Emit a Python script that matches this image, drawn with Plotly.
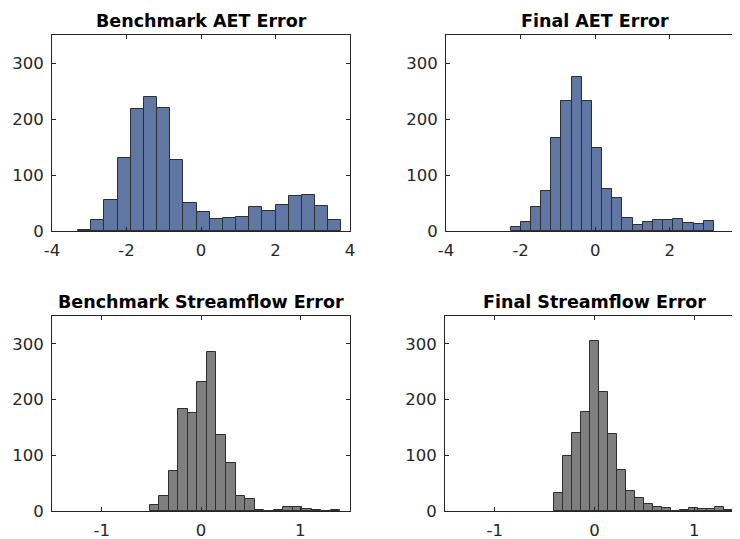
import numpy as np
import plotly.graph_objects as go

# ---- data ----
titles = ["Benchmark AET Error", "Final AET Error",
          "Benchmark Streamflow Error", "Final Streamflow Error"]

bench_aet_range = [-3.30, 3.77]
bench_aet_counts = [2, 19, 56, 131, 217, 240, 220, 127, 50, 34,
                    21, 23, 25, 43, 36, 46, 63, 65, 44, 19]

final_aet_range = [-2.27, 3.18]
final_aet_counts = [7, 16, 42, 72, 166, 232, 275, 232, 149, 75,
                    59, 23, 10, 16, 19, 19, 21, 14, 13, 17]

bench_sf_range = [-0.516, 1.403]
bench_sf_counts = [11, 27, 72, 183, 176, 232, 286, 136, 86, 27,
                   21, 1, 0, 2, 7, 7, 4, 1, 0, 2]

final_sf_range = [-0.405, 1.394]
final_sf_counts = [32, 99, 140, 178, 305, 214, 139, 73, 36, 23,
                   13, 8, 5, 0, 2, 5, 4, 4, 7, 2]

aet_ticks = [-4, -2, 0, 2, 4]
sf_ticks = [-1, 0, 1]
y_ticks = [0, 100, 200, 300]

BLUE = "#6177a3"
GRAY = "#7f7f7f"
EDGE = "#2e2e2e"
AXC = "#262626"

# the page body has an 8px margin, so the figure starts at (8, 8)
OFF = 8
W, H = 740 - OFF, 539 - OFF

def px(x):
    return (x - OFF) / W

def py(y):
    return 1 - (y - OFF) / H

panels = [
    # data, range, color, x px span, y px span, xrange, xticks, right-cut
    (bench_aet_counts, bench_aet_range, BLUE, (52, 350), (35, 231), [-4, 4], aet_ticks, False),
    (final_aet_counts, final_aet_range, BLUE, (446, 740), (35, 231), [-4, 3.88], aet_ticks, True),
    (bench_sf_counts, bench_sf_range, GRAY, (52, 350), (316, 511), [-1.5, 1.5], sf_ticks, False),
    (final_sf_counts, final_sf_range, GRAY, (445, 740), (316, 511), [-1.5, 1.46], sf_ticks, True),
]

fig = go.Figure()
font_tick = dict(family="DejaVu Sans", size=16.5, color=AXC)

for i, (counts, rng, color, xs, ys, xr, xt, cut) in enumerate(panels):
    n = len(counts)
    edges = np.linspace(rng[0], rng[1], n + 1)
    centers = (edges[:-1] + edges[1:]) / 2
    width = edges[1] - edges[0]
    k = "" if i == 0 else str(i + 1)
    fig.add_trace(go.Bar(
        x=centers, y=counts, width=width,
        marker=dict(color=color, line=dict(color=EDGE, width=1)),
        xaxis="x" + k, yaxis="y" + k, showlegend=False, hoverinfo="x+y",
    ))
    fig.layout["xaxis" + k] = dict(
        domain=[px(xs[0]), min(1.0, px(xs[1]))], anchor="y" + k, range=xr,
        tickvals=xt, ticktext=[str(t) for t in xt],
        ticks="inside", ticklen=4, tickcolor=AXC, showline=True,
        linecolor=AXC, linewidth=1, mirror="ticks", showgrid=False,
        zeroline=False, tickfont=font_tick, automargin=False,
        ticklabelstandoff=4,
    )
    fig.layout["yaxis" + k] = dict(
        domain=[py(ys[1]), py(ys[0])], anchor="x" + k, range=[0, 350],
        tickvals=y_ticks, ticks="inside", ticklen=4, tickcolor=AXC,
        showline=True, linecolor=AXC, linewidth=1,
        mirror=False if cut else "ticks", showgrid=False, zeroline=False,
        tickfont=font_tick, automargin=False, ticklabelstandoff=4,
    )
    fig.add_annotation(
        text="<b>" + titles[i] + "</b>", xref="paper", yref="paper",
        x=px((xs[0] + (xs[0] + 298)) / 2), y=py(ys[0] - 2),
        xanchor="center", yanchor="bottom", showarrow=False,
        font=dict(family="DejaVu Sans", size=17.5, color="#000000"),
    )

fig.update_layout(
    width=W, height=H, margin=dict(l=0, r=0, t=0, b=0, autoexpand=False),
    paper_bgcolor="white", plot_bgcolor="white", bargap=0,
)

fig.write_html("out.html")
